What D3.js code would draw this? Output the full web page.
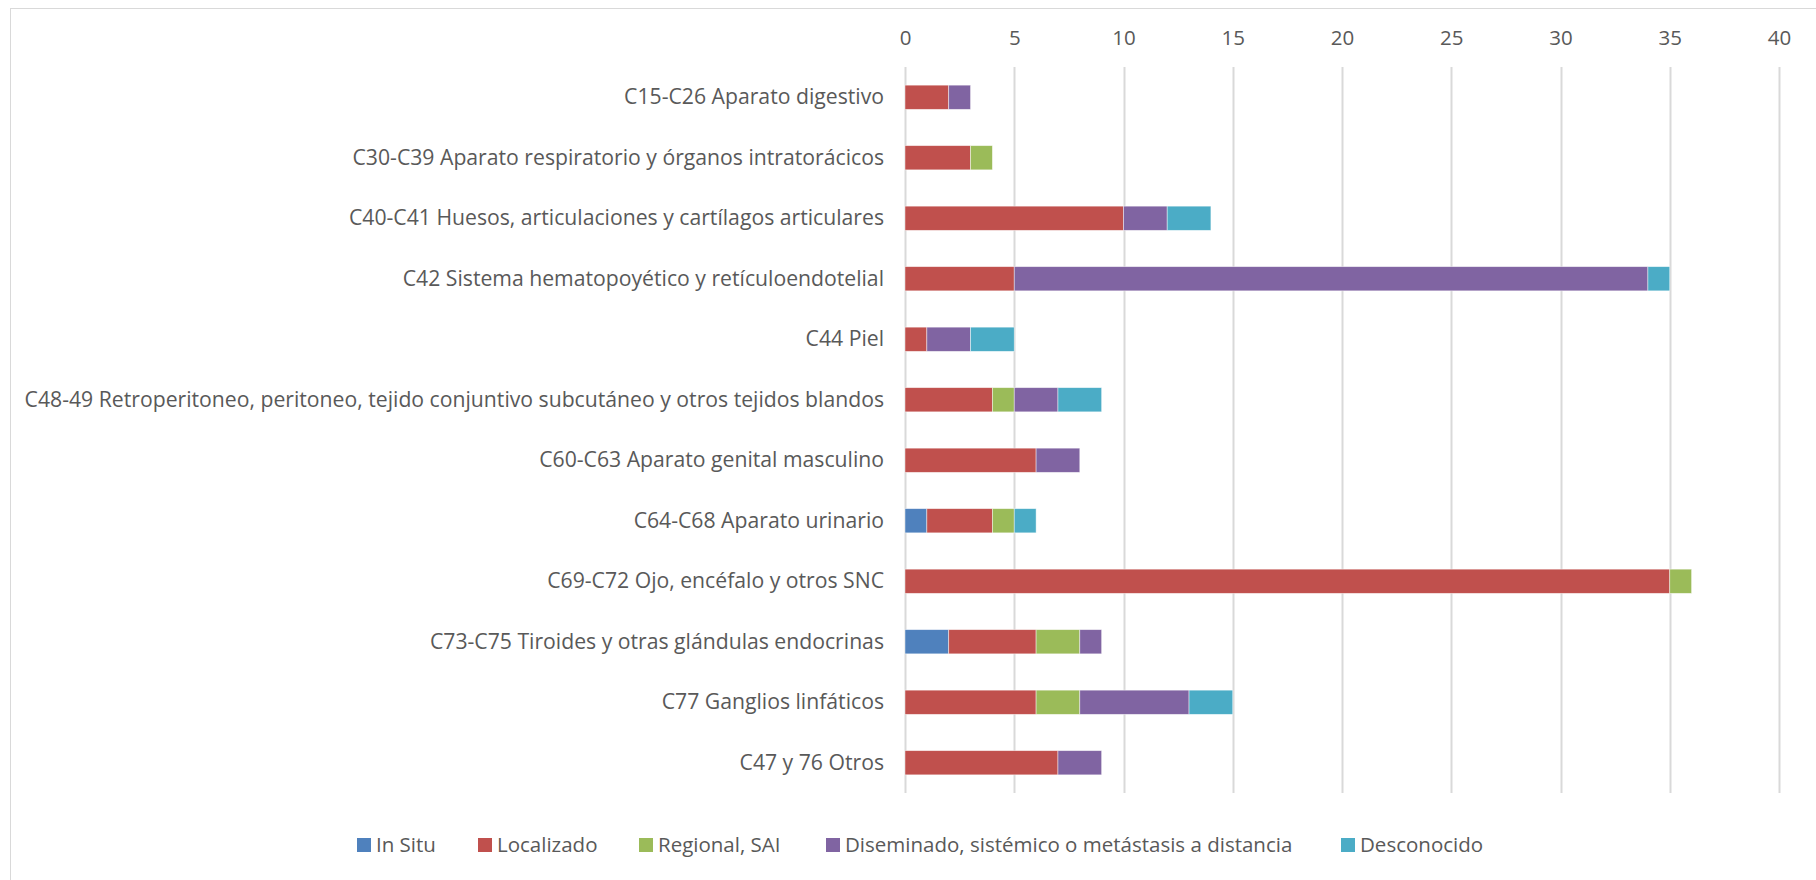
<!DOCTYPE html>
<html>
<head>
<meta charset="utf-8">
<script src="https://cdn.jsdelivr.net/npm/d3@7"></script>
<style>
  body { margin: 0; background: #fff; }
  text { font-family: "Open Sans", sans-serif; fill: #595959; }
</style>
</head>
<body>
<svg id="chart" width="1816" height="880"></svg>
<script>
var categories = [
    "C15-C26 Aparato digestivo",
    "C30-C39 Aparato respiratorio y órganos intratorácicos",
    "C40-C41 Huesos, articulaciones y cartílagos articulares",
    "C42 Sistema hematopoyético y retículoendotelial",
    "C44 Piel",
    "C48-49 Retroperitoneo, peritoneo, tejido conjuntivo subcutáneo y otros tejidos blandos",
    "C60-C63 Aparato genital masculino",
    "C64-C68 Aparato urinario",
    "C69-C72 Ojo, encéfalo y otros SNC",
    "C73-C75 Tiroides y otras glándulas endocrinas",
    "C77 Ganglios linfáticos",
    "C47 y 76 Otros"
];
var seriesNames = ["In Situ", "Localizado", "Regional, SAI", "Diseminado, sistémico o metástasis a distancia", "Desconocido"];
var inSitu      = [0, 0, 0, 0, 0, 0, 0, 1, 0, 2, 0, 0];
var localizado  = [2, 3, 10, 5, 1, 4, 6, 3, 35, 4, 6, 7];
var regional    = [0, 1, 0, 0, 0, 1, 0, 1, 1, 2, 2, 0];
var diseminado  = [1, 0, 2, 29, 2, 2, 2, 0, 0, 1, 5, 2];
var desconocido = [0, 0, 2, 1, 2, 2, 0, 1, 0, 0, 2, 0];
var tickValues  = [0, 5, 10, 15, 20, 25, 30, 35, 40];
var colors = ["#4F81BD", "#C0504D", "#9BBB59", "#8064A2", "#4BACC6"];

var svg = d3.select("#chart");

// outer chart border (only top/left visible in frame)
svg.append("rect")
    .attr("x", 10.5).attr("y", 8.5)
    .attr("width", 1830).attr("height", 900)
    .attr("fill", "none")
    .attr("stroke", "#D9D9D9");

var plotLeft = 905, plotRight = 1779, plotTop = 67, plotBottom = 793;

var x = d3.scaleLinear().domain([0, 40]).range([plotLeft, plotRight]);
var y = d3.scaleBand().domain(categories).range([plotTop, plotBottom]).paddingInner(0.6).paddingOuter(0.3);

// build table for stack
var rows = categories.map(function(c, i) {
    return { cat: c, s0: inSitu[i], s1: localizado[i], s2: regional[i], s3: diseminado[i], s4: desconocido[i] };
});
var stack = d3.stack().keys(["s0", "s1", "s2", "s3", "s4"])(rows);

// gridlines
svg.append("g").selectAll("line")
    .data(tickValues)
    .enter().append("line")
    .attr("x1", function(d) { return Math.round(x(d)) + 0.5; })
    .attr("x2", function(d) { return Math.round(x(d)) + 0.5; })
    .attr("y1", plotTop).attr("y2", plotBottom)
    .attr("stroke", "#D9D9D9")
    .attr("stroke-width", 2);

// top axis labels
var xAxis = d3.axisTop(x).tickValues(tickValues).tickSize(0).tickPadding(0);
var gx = svg.append("g").attr("transform", "translate(0,45)").call(xAxis);
gx.select(".domain").remove();
gx.attr("font-family", null);
gx.selectAll("text").style("font-size", "20.5px").attr("fill", "#595959");

// category labels
var yAxis = d3.axisLeft(y).tickSize(0).tickPadding(21);
var gy = svg.append("g").attr("transform", "translate(" + plotLeft + ",0)").call(yAxis);
gy.select(".domain").remove();
gy.attr("font-family", null);
gy.selectAll("text").style("font-size", "21.2px").attr("fill", "#595959");

// bars
svg.append("g").selectAll("g")
    .data(stack)
    .enter().append("g")
    .attr("fill", function(d, i) { return colors[i]; })
    .selectAll("rect")
    .data(function(d) { return d.filter(function(p) { return p[1] > p[0]; }); })
    .enter().append("rect")
    .attr("x", function(d) { return x(d[0]); })
    .attr("y", function(d) { return y(d.data.cat); })
    .attr("width", function(d) { return x(d[1]) - x(d[0]); })
    .attr("height", y.bandwidth())
    .attr("stroke", "#fff")
    .attr("stroke-opacity", 0.6)
    .attr("stroke-width", 0.75);

// legend
var legendX = [357, 478, 639, 826, 1341];
var legend = svg.append("g").selectAll("g")
    .data(seriesNames)
    .enter().append("g")
    .attr("transform", function(d, i) { return "translate(" + legendX[i] + ",845)"; });
legend.append("rect")
    .attr("x", 0).attr("y", -7)
    .attr("width", 14).attr("height", 14)
    .attr("fill", function(d, i) { return colors[i]; });
legend.append("text")
    .attr("x", 19).attr("dy", "0.35em")
    .style("font-size", "20.5px")
    .text(function(d) { return d; });
</script>
</body>
</html>
